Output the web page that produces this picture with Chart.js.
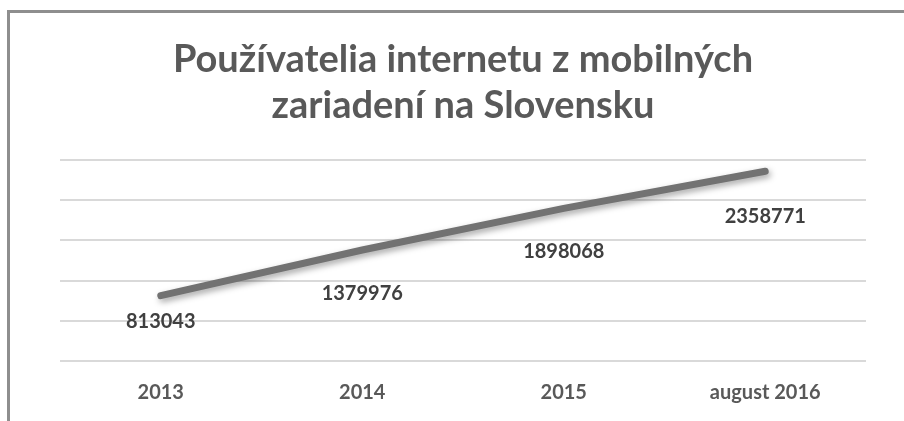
<!DOCTYPE html>
<html>
<head>
<meta charset="utf-8">
<script src="https://cdn.jsdelivr.net/npm/chart.js@4"></script>
<style>
  html, body { margin: 0; padding: 0; background: #fff; }
  #wrap { position: relative; width: 904px; height: 421px; }
  #frame { position: absolute; left: 7px; top: 10px; right: 0; bottom: 0;
           border-left: 3px solid #8e8e8e; border-top: 3px solid #8e8e8e; }
  canvas { position: absolute; left: 0; top: 0; }
</style>
</head>
<body>
<div id="wrap">
  <div id="frame"></div>
  <canvas id="chart" width="904" height="421"></canvas>
</div>
<script>
const categories = ["2013", "2014", "2015", "august 2016"];
const users = [813043, 1379976, 1898068, 2358771];
const titleLines = ["Používatelia internetu z mobilných", "zariadení na Slovensku"];

const ctx = document.getElementById('chart').getContext('2d');
const fontFamily = 'Lato, "Open Sans", sans-serif';

const lineShadow = {
    id: 'lineShadow',
    beforeDatasetDraw(chart) {
        const c = chart.ctx;
        c.save();
        c.shadowColor = 'rgba(0,0,0,0.35)';
        c.shadowBlur = 6;
        c.shadowOffsetX = 2;
        c.shadowOffsetY = 3;
    },
    afterDatasetDraw(chart) {
        chart.ctx.restore();
    }
};

// value labels under each point (Excel places them a bit unevenly)
const valueLabels = {
    id: 'valueLabels',
    afterDatasetsDraw(chart, args, opts) {
        const c = chart.ctx;
        const meta = chart.getDatasetMeta(0);
        c.save();
        c.font = 'bold 20px ' + fontFamily;
        c.fillStyle = '#404040';
        c.textAlign = 'center';
        c.textBaseline = 'middle';
        meta.data.forEach((pt, i) => {
            c.fillText(String(chart.data.datasets[0].data[i]), pt.x, pt.y + opts.offsets[i]);
        });
        c.restore();
    }
};

new Chart(ctx, {
    type: 'line',
    data: {
        labels: categories,
        datasets: [{
            data: users,
            borderColor: '#727272',
            borderWidth: 7,
            borderCapStyle: 'round',
            pointRadius: 0,
            tension: 0
        }]
    },
    plugins: [lineShadow, valueLabels],
    options: {
        responsive: false,
        animation: false,
        layout: { padding: { left: 60, right: 38, top: 0, bottom: 4 } },
        plugins: {
            legend: { display: false },
            tooltip: { enabled: false },
            title: {
                display: true,
                text: titleLines,
                color: '#595959',
                font: { family: fontFamily, size: 38, weight: 'bold', lineHeight: 1.21 },
                padding: { top: 37, bottom: 31 }
            },
            valueLabels: { offsets: [26, 44, 43, 45] }
        },
        scales: {
            x: {
                offset: true,
                grid: { display: false },
                border: { display: false },
                ticks: {
                    color: '#595959',
                    padding: 12,
                    maxRotation: 0,
                    font: { family: fontFamily, size: 20, weight: 'bold' }
                }
            },
            y: {
                min: 0,
                max: 2500000,
                ticks: { display: false, stepSize: 500000 },
                border: { display: false },
                grid: { color: '#d9d9d9', lineWidth: 2, drawTicks: false }
            }
        }
    }
});
</script>
</body>
</html>
